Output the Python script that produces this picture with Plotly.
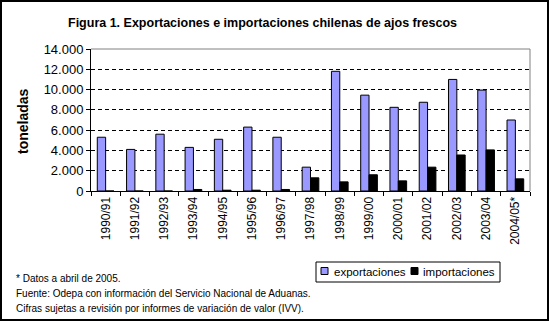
import plotly.graph_objects as go

categories = ["1990/91", "1991/92", "1992/93", "1993/94", "1994/95", "1995/96", "1996/97",
              "1997/98", "1998/99", "1999/00", "2000/01", "2001/02", "2002/03", "2003/04", "2004/05*"]
exportaciones = [5300, 4100, 5600, 4300, 5100, 6300, 5300, 2350, 11800, 9450, 8250, 8750, 11000, 9950, 7000]
importaciones = [0, 0, 0, 150, 80, 80, 150, 1300, 900, 1600, 1000, 2350, 3550, 4050, 1200]
y_ticks = [0, 2000, 4000, 6000, 8000, 10000, 12000, 14000]

W, H = 550, 322
L, R, T, B = 91, 20, 49, 131
PW, PH = W - L - R, H - T - B

def px(x):
    return (x - L) / PW

def py(y):
    return 1 - (y - T) / PH

FONT = "Arial, Liberation Sans, sans-serif"
EXP_COLOR = "#9999FF"
IMP_COLOR = "black"

fig = go.Figure()
fig.add_trace(go.Bar(x=categories, y=exportaciones, name="exportaciones",
                     marker=dict(color=EXP_COLOR, line=dict(color="black", width=1))))
fig.add_trace(go.Bar(x=categories, y=importaciones, name="importaciones",
                     marker=dict(color=IMP_COLOR, line=dict(color="black", width=1))))

fig.update_layout(
    width=W, height=H,
    margin=dict(l=L, r=R, t=T, b=B, autoexpand=False),
    paper_bgcolor="white", plot_bgcolor="white",
    separators=",.",
    barmode="group", bargap=0.43, bargroupgap=0,
    font=dict(family=FONT, size=11, color="black"),
    showlegend=False,
)

fig.update_xaxes(type="category", showline=True, linecolor="black", linewidth=1,
                 ticks="outside", ticklen=4, tickcolor="black", tickson="boundaries",
                 tickangle=-90, tickfont=dict(family=FONT, size=12), showgrid=False,
                 range=[-0.5, len(categories) - 0.5])
fig.update_yaxes(range=[0, 14000], tickvals=y_ticks, tickformat=",d",
                 showline=True, linecolor="black", linewidth=1,
                 ticks="outside", ticklen=4, tickcolor="black",
                 tickfont=dict(family=FONT, size=13),
                 showgrid=True, gridcolor="black", griddash="4px,3px", gridwidth=1,
                 zeroline=False)

# plot frame top/right in grey
fig.add_shape(type="line", xref="paper", yref="paper", x0=0, x1=1, y0=1, y1=1,
              line=dict(color="#808080", width=1))
fig.add_shape(type="line", xref="paper", yref="paper", x0=1, x1=1, y0=0, y1=1,
              line=dict(color="#808080", width=1))
# outer border
fig.add_shape(type="rect", xref="paper", yref="paper", x0=px(1), x1=px(548), y0=py(1), y1=py(320),
              line=dict(color="black", width=2))

fig.add_annotation(text="<b>Figura 1. Exportaciones e importaciones chilenas de ajos frescos</b>",
                   xref="paper", yref="paper", x=px(262), y=py(23), xanchor="center", yanchor="middle",
                   showarrow=False, font=dict(family=FONT, size=12.5, color="black"))
fig.add_annotation(text="<b>toneladas</b>", textangle=-90,
                   xref="paper", yref="paper", x=px(23), y=py(121), xanchor="center", yanchor="middle",
                   showarrow=False, font=dict(family=FONT, size=14, color="black"))

# legend (drawn manually to match compact box)
fig.add_shape(type="rect", xref="paper", yref="paper", x0=px(316), x1=px(500), y0=py(262), y1=py(282),
              line=dict(color="black", width=1), fillcolor="white")
legend_items = [("exportaciones", EXP_COLOR, 321, 332), ("importaciones", IMP_COLOR, 411, 421)]
for name, col, sx, tx in legend_items:
    fig.add_shape(type="rect", xref="paper", yref="paper", x0=px(sx), x1=px(sx + 7),
                  y0=py(267.5), y1=py(274.5), line=dict(color="black", width=1), fillcolor=col)
    fig.add_annotation(text=name, xref="paper", yref="paper", x=px(tx), y=py(271.5),
                       xanchor="left", yanchor="middle", showarrow=False,
                       font=dict(family=FONT, size=11.5, color="black"))

notes = ["* Datos a abril de 2005.",
         "Fuente: Odepa con información del Servicio Nacional de Aduanas.",
         "Cifras sujetas a revisión por informes de variación de valor (IVV)."]
for i, n in enumerate(notes):
    fig.add_annotation(text=n, xref="paper", yref="paper", x=px(14), y=py(278 + 15 * i),
                       xanchor="left", yanchor="middle", showarrow=False,
                       font=dict(family=FONT, size=10, color="black"))

fig.write_html("out.html")
